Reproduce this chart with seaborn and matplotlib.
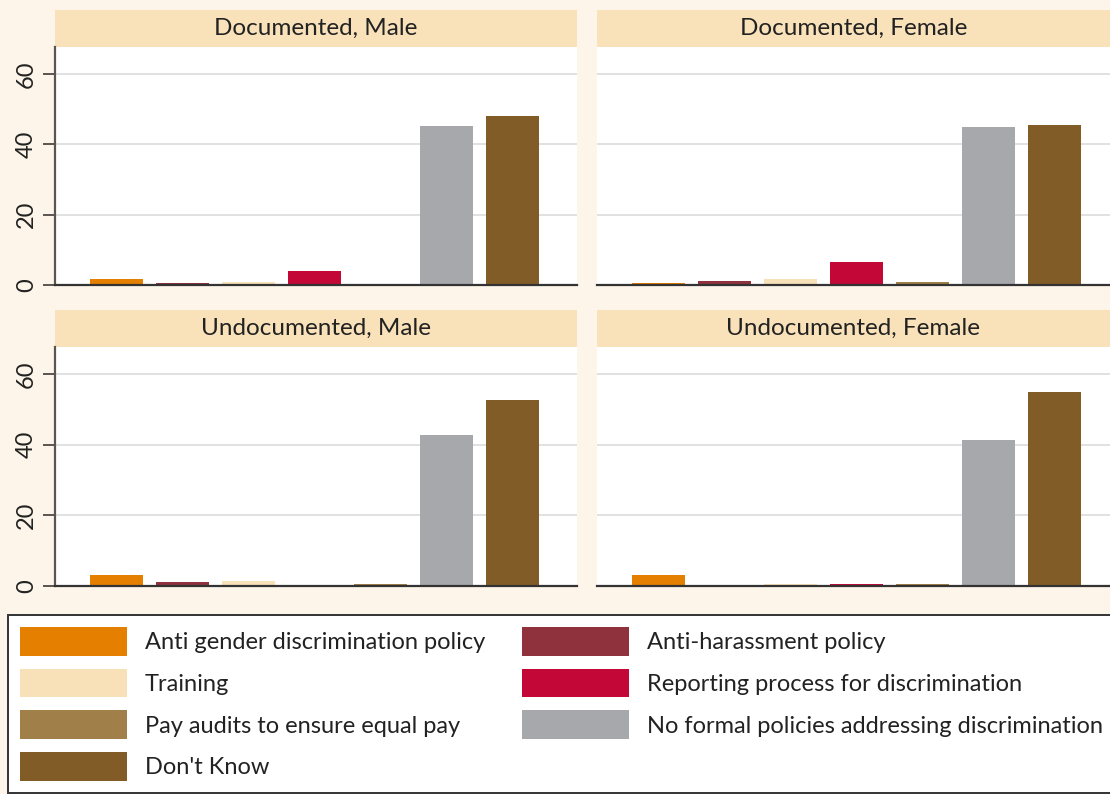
import numpy as np
import pandas as pd
import matplotlib
matplotlib.use("Agg")
import matplotlib.pyplot as plt
from matplotlib.patches import Rectangle, Patch
import seaborn as sns

# =========================
# DATA (percent of respondents)
# =========================
policies = [
    "Anti gender discrimination policy",
    "Anti-harassment policy",
    "Training",
    "Reporting process for discrimination",
    "Pay audits to ensure equal pay",
    "No formal policies addressing discrimination",
    "Don't Know",
]
colors = ["#E47F00", "#8F323D", "#F8E1B9", "#C30838", "#A08048", "#A7A8AC", "#825C26"]

panel_titles = ["Documented, Male", "Documented, Female",
                "Undocumented, Male", "Undocumented, Female"]

doc_male = [1.6, 0.5, 0.8, 3.9, 0.2, 45.1, 47.9]
doc_female = [0.5, 1.05, 1.6, 6.4, 0.8, 44.8, 45.4]
undoc_male = [3.0, 1.05, 1.3, 0.2, 0.5, 42.8, 52.5]
undoc_female = [3.0, 0.0, 0.5, 0.5, 0.5, 41.4, 55.0]

yticks = [0, 20, 40, 60]

# =========================
# STYLE
# =========================
sns.set_theme(style="white")
plt.rcParams["font.family"] = ["Lato", "DejaVu Sans"]

bg = "#FDF5E9"
strip_bg = "#F9E2BA"
palette = dict(zip(policies, colors))

fig = plt.figure(figsize=(11.1, 7.94), dpi=100)
fig.patch.set_facecolor(bg)

W, H = 1110, 794
# axes boxes in pixels: left, top, right, bottom
boxes = [(55, 47, 577, 285), (597, 47, 1119, 285),
         (55, 347, 577, 586), (597, 347, 1119, 586)]
series = [doc_male, doc_female, undoc_male, undoc_female]

for i, (box, vals, title) in enumerate(zip(boxes, series, panel_titles)):
    l, t, r, b = box
    ax = fig.add_axes([l / W, 1 - b / H, (r - l) / W, (b - t) / H])
    ax.set_facecolor("white")
    df = pd.DataFrame({"policy": policies, "value": vals})
    sns.barplot(data=df, x="policy", y="value", hue="policy", order=policies,
                hue_order=policies, palette=palette, dodge=False, width=0.8,
                saturation=1, errorbar=None, legend=False, ax=ax,
                linewidth=0, edgecolor="none", zorder=3)
    ax.set_xlim(-0.93, 6.98)
    ax.set_ylim(0, 67.6)
    ax.set_xticks([])
    ax.set_xlabel("")
    ax.set_ylabel("")
    ax.set_yticks(yticks)
    ax.yaxis.grid(True, color="#DCDCDC", linewidth=1.2, zorder=0)
    ax.set_axisbelow(True)
    for s in ["top", "right"]:
        ax.spines[s].set_visible(False)
    ax.spines["bottom"].set_color("#333333")
    ax.spines["bottom"].set_linewidth(1.6)
    ax.spines["bottom"].set_zorder(4)
    if i % 2 == 0:
        ax.spines["left"].set_color("#5A5550")
        ax.spines["left"].set_linewidth(1.6)
        ax.tick_params(axis="y", left=True, length=9, width=1.4, color="#5A5550",
                       labelsize=17, labelcolor="#222222", pad=4)
        for lab in ax.get_yticklabels():
            lab.set_rotation(90)
            lab.set_va("center")
    else:
        ax.spines["left"].set_visible(False)
        ax.tick_params(axis="y", left=False, labelleft=False)
    # facet strip
    sh = 37 / (b - t)
    ax.add_patch(Rectangle((0, 1), 1, sh, transform=ax.transAxes,
                           facecolor=strip_bg, edgecolor="none", clip_on=False))
    cx = 0.5 if i % 2 == 0 else 0.5 * 513 / 522
    ax.text(cx, 1 + sh / 2, title, transform=ax.transAxes,
            ha="center", va="center", fontsize=17.5, color="#222222")

# =========================
# LEGEND
# =========================
leg_order = [0, 2, 4, 6, 1, 3, 5]
handles = [Patch(facecolor=colors[k], edgecolor="none") for k in leg_order]
labels = [policies[k] for k in leg_order]
leg = fig.legend(handles, labels, loc="upper left",
                 bbox_to_anchor=(8 / W, 1 - 615 / H), ncol=2,
                 fontsize=17, frameon=True, fancybox=False, framealpha=1,
                 handlelength=4.55, handleheight=1.5, handletextpad=0.75,
                 columnspacing=1.55, labelspacing=0.55, borderpad=0.5,
                 borderaxespad=0)
leg.get_frame().set_edgecolor("#333333")
leg.get_frame().set_linewidth(1.4)
leg.get_frame().set_facecolor("white")
for txt in leg.get_texts():
    txt.set_color("#222222")

fig.savefig("out.png", dpi=100, facecolor=bg)
